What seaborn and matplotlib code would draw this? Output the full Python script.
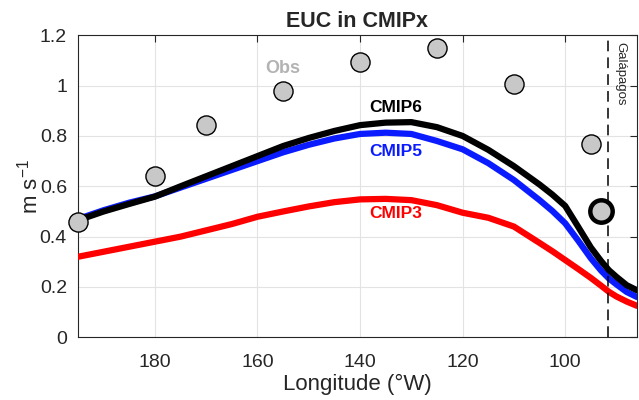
import numpy as np
import pandas as pd
import matplotlib
matplotlib.use("Agg")
import matplotlib.pyplot as plt
import seaborn as sns
from matplotlib.ticker import FuncFormatter

lon = [195, 190, 185, 180, 175, 170, 165, 160, 155, 150, 145, 140, 135, 130,
       125, 120, 115, 110, 105, 102.5, 100, 97.5, 95, 93, 91.5, 90, 88, 86]
cmip6 = [0.465, 0.50, 0.53, 0.559, 0.60, 0.64, 0.68, 0.72, 0.76, 0.792, 0.82,
         0.843, 0.853, 0.855, 0.835, 0.80, 0.745, 0.68, 0.607, 0.567, 0.522,
         0.44, 0.357, 0.303, 0.267, 0.24, 0.207, 0.187]
cmip5 = [0.47, 0.505, 0.535, 0.56, 0.595, 0.63, 0.665, 0.70, 0.735, 0.765, 0.79,
         0.808, 0.813, 0.808, 0.78, 0.747, 0.692, 0.625, 0.545, 0.502, 0.453,
         0.385, 0.314, 0.265, 0.234, 0.21, 0.18, 0.16]
cmip3 = [0.32, 0.34, 0.36, 0.38, 0.40, 0.425, 0.45, 0.479, 0.50, 0.52, 0.537,
         0.548, 0.55, 0.545, 0.525, 0.495, 0.475, 0.44, 0.375, 0.342, 0.307,
         0.272, 0.236, 0.205, 0.181, 0.162, 0.142, 0.125]
obs_lon = [195, 180, 170, 155, 140, 125, 110, 95]
obs_val = [0.457, 0.64, 0.843, 0.98, 1.094, 1.15, 1.005, 0.767]
gal_obs_lon = [93]
gal_obs_val = [0.503]
galapagos_lon = 91.7

xticks = [180, 160, 140, 120, 100]
yticks = [0, 0.2, 0.4, 0.6, 0.8, 1.0, 1.2]

sns.set_style("white")
plt.rcParams['font.family'] = ['Liberation Sans', 'DejaVu Sans']
plt.rcParams['mathtext.fontset'] = 'custom'
plt.rcParams['mathtext.rm'] = 'Liberation Sans'
plt.rcParams['mathtext.it'] = 'Liberation Sans:italic'

fig = plt.figure(figsize=(6.39, 4.0), dpi=100)
ax = fig.add_axes([78 / 639, 1 - 337.3 / 400, (637 - 78) / 639, (337.3 - 35.3) / 400])

df = pd.DataFrame({"lon": lon * 3,
                   "val": cmip3 + cmip5 + cmip6,
                   "model": ["CMIP3"] * len(lon) + ["CMIP5"] * len(lon) + ["CMIP6"] * len(lon)})
palette = {"CMIP3": "#ff0000", "CMIP5": "#0a1cff", "CMIP6": "#000000"}
sns.lineplot(data=df, x="lon", y="val", hue="model", palette=palette, lw=4.5,
             ax=ax, legend=False, sort=False, zorder=3)
for ln in ax.get_lines():
    ln.set_solid_joinstyle("round")

sns.scatterplot(x=obs_lon, y=obs_val, ax=ax, s=190, color="#c8c8c8",
                edgecolor="black", linewidth=1.0, zorder=5, clip_on=False)
sns.scatterplot(x=gal_obs_lon, y=gal_obs_val, ax=ax, s=260, color="#c8c8c8",
                edgecolor="black", linewidth=3.2, zorder=6)

ax.axvline(galapagos_lon, color="black", lw=1.1, ls=(0, (7, 4)), zorder=4)

ax.set_xlim(195, 86)
ax.set_ylim(0, 1.2)
ax.set_xticks(xticks)
ax.set_yticks(yticks)
ax.yaxis.set_major_formatter(FuncFormatter(lambda v, p: f"{v:g}"))
ax.grid(True, color="#e3e3e3", lw=0.8)
ax.set_axisbelow(True)
for s in ax.spines.values():
    s.set_visible(True)
    s.set_color("#262626")
    s.set_linewidth(0.8)
ax.tick_params(direction="in", length=5, width=0.8, top=True, right=True,
               labelsize=14, colors="#262626", pad=8)
ax.tick_params(axis="x", pad=12)
ax.set_xlabel("Longitude (°W)", fontsize=16, color="#262626", labelpad=2)
ax.set_ylabel(r"m s$^{-1}$", fontsize=16, color="#262626", labelpad=-2)
ax.set_title("EUC in CMIPx", fontsize=15.5, fontweight="bold", pad=6)

ax.text(155, 1.07, "Obs", color="#b3b3b3", fontsize=13, fontweight="bold",
        ha="center", va="center")
ax.text(133, 0.915, "CMIP6", color="black", fontsize=12.5, fontweight="bold",
        ha="center", va="center")
ax.text(133, 0.737, "CMIP5", color="#0a1cff", fontsize=12.5, fontweight="bold",
        ha="center", va="center")
ax.text(133, 0.49, "CMIP3", color="#ff0000", fontsize=12.5, fontweight="bold",
        ha="center", va="center")
ax.text(89.3, 1.175, "Galápagos", rotation=-90, fontsize=9.5, ha="center",
        va="top", color="#262626")

fig.savefig("out.png", dpi=100)
